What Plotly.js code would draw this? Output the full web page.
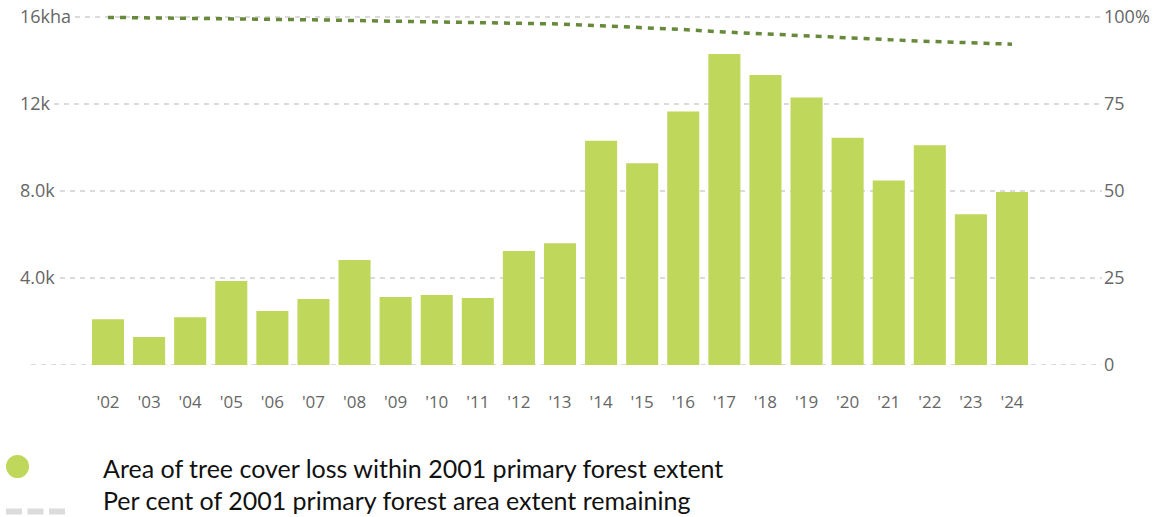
<!DOCTYPE html>
<html>
<head>
<meta charset="utf-8">
<script src="https://cdn.plot.ly/plotly-3.0.1.min.js"></script>
<style>
html,body{margin:0;padding:0;background:#fff;}
#chart{width:1158px;height:517px;}
</style>
</head>
<body>
<div id="chart"></div>
<script>
// ---- data ----
const years = ["'02","'03","'04","'05","'06","'07","'08","'09","'10","'11","'12","'13","'14","'15","'16","'17","'18","'19","'20","'21","'22","'23","'24"];
const treeCoverLoss = [2100,1290,2200,3860,2480,3030,4830,3130,3220,3080,5240,5600,10310,9280,11660,14300,13330,12300,10450,8480,10100,6930,7950];
const percentRemaining = [99.9,99.8,99.7,99.5,99.4,99.2,99.0,98.8,98.7,98.5,98.3,98.0,97.5,97.0,96.4,95.7,95.1,94.5,93.9,93.5,93.0,92.6,92.2];
const leftTickVals = [0,4000,8000,12000,16000];
const leftTickText = ['0','4.0k','8.0k','12k','16kha'];
const rightTickVals = [0,25,50,75,100];
const rightTickText = ['0','25','50','75','100%'];
const legendLabels = ['Area of tree cover loss within 2001 primary forest extent','Per cent of 2001 primary forest area extent remaining'];

// ---- layout geometry (pixels) ----
const L = 15, R = 1102, W = 1158, T = 4, B = 365;
const PW = R - L, PH = B - T;
const px = v => (v - L) / PW;          // page x -> paper x
const py = v => (B - v) / PH;          // page y -> paper y
const gridStartPx = [31, 60, 60, 54, 75];
const gridColor = '#cfcfcf';

const shapes = [];
leftTickVals.forEach((v, i) => {
  shapes.push({type:'line', layer:'below', xref:'paper', yref:'y',
    x0:px(gridStartPx[i]), x1:1, y0:v, y1:v,
    line:{color:gridColor, width:1.5, dash:'5px,5px'}});
});
// legend symbols
shapes.push({type:'circle', xref:'paper', yref:'paper',
  x0:px(6), x1:px(29), y0:py(478), y1:py(455),
  fillcolor:'#bfd75a', line:{width:0}});
shapes.push({type:'line', xref:'paper', yref:'paper',
  x0:px(6), x1:px(66), y0:py(511.5), y1:py(511.5),
  line:{color:'#dcdcdc', width:6, dash:'16px,5.5px'}});

const traces = [
  {type:'bar', x:years, y:treeCoverLoss, name:legendLabels[0], marker:{color:'#bfd75a'},
   yaxis:'y'},
  {type:'scatter', mode:'lines', x:years, y:percentRemaining, name:legendLabels[1],
   yaxis:'y2', line:{color:'#67893a', width:3.5, dash:'6px,6px'}}
];

const layout = {
  width:1158, height:517,
  margin:{l:L, r:W-R, t:T, b:517-B},
  paper_bgcolor:'#fff', plot_bgcolor:'rgba(0,0,0,0)',
  showlegend:false,
  bargap:0.22,
  font:{family:'"Open Sans", sans-serif', color:'#666', size:16},
  xaxis:{type:'category', range:[(L-108)/41.09, 22+(R-1012)/41.09], showgrid:false, zeroline:false,
    showline:false, ticks:'', ticklabelstandoff:25, tickfont:{size:17, color:'#666'}},
  yaxis:{range:[0,16600], tickvals:leftTickVals, ticktext:leftTickText, showgrid:false, zeroline:false,
    showline:false, ticks:'', ticklabelposition:'inside', ticklabelstandoff:2, tickfont:{size:18, color:'#666'}},
  yaxis2:{range:[0,103.75], overlaying:'y', side:'right', tickvals:rightTickVals, ticktext:rightTickText,
    showgrid:false, zeroline:false, showline:false, ticks:'', ticklabelstandoff:1, tickfont:{size:18, color:'#666'}},
  shapes:shapes,
  annotations:[
    {xref:'paper', yref:'paper', x:px(101), y:py(468), xanchor:'left', yanchor:'middle', showarrow:false,
     text:legendLabels[0], font:{family:'Lato, sans-serif', size:25, color:'#111'}},
    {xref:'paper', yref:'paper', x:px(101), y:py(500), xanchor:'left', yanchor:'middle', showarrow:false,
     text:legendLabels[1], font:{family:'Lato, sans-serif', size:25, color:'#111'}}
  ]
};
Plotly.newPlot('chart', traces, layout, {displayModeBar:false, staticPlot:true});
</script>
</body>
</html>
